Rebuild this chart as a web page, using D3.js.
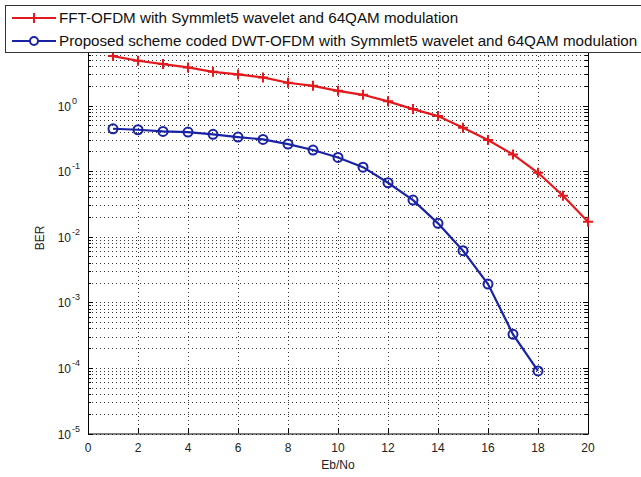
<!DOCTYPE html>
<html><head><meta charset="utf-8">
<script src="https://cdn.jsdelivr.net/npm/d3@7"></script>
<style>
body{margin:0;background:#fff;}
svg{display:block;font-family:"Liberation Sans",Arial,sans-serif;}
</style></head>
<body><svg id="c" width="641" height="477"></svg>
<script>
const ebno = [1,2,3,4,5,6,7,8,9,10,11,12,13,14,15,16,17,18,19,20];
const fftBER = [5.68,4.82,4.29,3.82,3.27,2.99,2.69,2.23,2.00,1.68,1.46,1.16,0.884,0.692,0.459,0.298,0.180,0.0946,0.0422,0.0169];
const dwtEbno = [1,2,3,4,5,6,7,8,9,10,11,12,13,14,15,16,17,18];
const dwtBER = [0.443,0.428,0.404,0.394,0.364,0.331,0.305,0.259,0.210,0.162,0.115,0.0666,0.0362,0.0160,0.00612,0.00190,0.000325,0.0000898];
const xTicks = [0,2,4,6,8,10,12,14,16,18,20];
const yDecades = [-5,-4,-3,-2,-1,0,1];
const legendLabels = ["FFT-OFDM with Symmlet5 wavelet and 64QAM modulation",
  "Proposed scheme coded DWT-OFDM with Symmlet5 wavelet and 64QAM modulation"];
const seriesColors = ["#e3191d","#1a23a3"];

const svg = d3.select("#c");
const L=88, R=588, T=40, B=433.5;
const x = d3.scaleLinear().domain([0,20]).range([L,R]);
const y = d3.scaleLog().domain([1e-5,1e1]).range([B,T]);

const minors = [];
yDecades.slice(0,-1).forEach(e=>{for(let k=2;k<=9;k++) minors.push(k*Math.pow(10,e));});
const majors = yDecades.map(e=>Math.pow(10,e));

const grid = svg.append("g").attr("stroke","#000").attr("stroke-width",1).attr("stroke-dasharray","1,3").attr("opacity",0.8);
grid.selectAll(".hg").data(majors.concat(minors)).enter().append("line")
  .attr("x1",L).attr("x2",R).attr("y1",d=>Math.round(y(d))+0.5).attr("y2",d=>Math.round(y(d))+0.5);
grid.selectAll(".vg").data(xTicks.slice(1,-1)).enter().append("line")
  .attr("x1",d=>Math.round(x(d))+0.5).attr("x2",d=>Math.round(x(d))+0.5).attr("y1",T).attr("y2",B);

const ax = svg.append("g").attr("stroke","#000").attr("stroke-width",1).attr("fill","none");
ax.append("rect").attr("x",L+0.5).attr("y",T+0.5).attr("width",R-L).attr("height",B-T);
xTicks.forEach(t=>{
  const px=Math.round(x(t))+0.5;
  ax.append("line").attr("x1",px).attr("x2",px).attr("y1",B).attr("y2",B-5);
  ax.append("line").attr("x1",px).attr("x2",px).attr("y1",T).attr("y2",T+5);
});
majors.forEach(v=>{
  const py=Math.round(y(v))+0.5;
  ax.append("line").attr("x1",L).attr("x2",L+5).attr("y1",py).attr("y2",py);
  ax.append("line").attr("x1",R).attr("x2",R-5).attr("y1",py).attr("y2",py);
});
minors.forEach(v=>{
  const py=Math.round(y(v))+0.5;
  ax.append("line").attr("x1",L).attr("x2",L+3).attr("y1",py).attr("y2",py);
  ax.append("line").attr("x1",R).attr("x2",R-3).attr("y1",py).attr("y2",py);
});

svg.append("g").selectAll("text").data(xTicks).enter().append("text")
  .attr("x",d=>x(d)).attr("y",B+18).attr("text-anchor","middle").attr("font-size",12).attr("fill","#222").text(d=>d);
svg.append("g").selectAll("text").data(yDecades.slice(0,-1)).enter().append("text")
  .attr("x",L-17).attr("y",d=>y(Math.pow(10,d))+5).attr("text-anchor","end").attr("font-size",12).attr("fill","#222").text("10");
svg.append("g").selectAll("text").data(yDecades.slice(0,-1)).enter().append("text")
  .attr("x",L-16).attr("y",d=>y(Math.pow(10,d))-2).attr("text-anchor","start").attr("font-size",9).attr("fill","#222")
  .text(d=>d);

svg.append("text").attr("x",(L+R)/2).attr("y",469).attr("text-anchor","middle").attr("font-size",12).attr("fill","#222").text("Eb/No");
svg.append("text").attr("transform","translate(44,238) rotate(-90)").attr("text-anchor","middle").attr("font-size",12).attr("fill","#222").text("BER");

const line = d3.line().x(d=>x(d[0])).y(d=>y(d[1]));
const s1 = ebno.map((e,i)=>[e,fftBER[i]]);
const s2 = dwtEbno.map((e,i)=>[e,dwtBER[i]]);
svg.append("path").datum(s1).attr("d",line).attr("fill","none").attr("stroke",seriesColors[0]).attr("stroke-width",2.2);
svg.append("g").selectAll("path").data(s1).enter().append("path")
  .attr("d",d=>`M${x(d[0])-5},${y(d[1])}h10M${x(d[0])},${y(d[1])-5}v10`).attr("stroke",seriesColors[0]).attr("stroke-width",2);
svg.append("path").datum(s2).attr("d",line).attr("fill","none").attr("stroke",seriesColors[1]).attr("stroke-width",2.2);
svg.append("g").selectAll("circle").data(s2).enter().append("circle")
  .attr("cx",d=>x(d[0])).attr("cy",d=>y(d[1])).attr("r",4.5).attr("fill","none").attr("stroke",seriesColors[1]).attr("stroke-width",2);

const lg = svg.append("g");
lg.append("rect").attr("x",5.5).attr("y",5.5).attr("width",650).attr("height",47).attr("fill","#fff").attr("stroke","#333");
legendLabels.forEach((lab,i)=>{
  const cy = 18 + i*23;
  lg.append("line").attr("x1",12).attr("x2",56).attr("y1",cy).attr("y2",cy).attr("stroke",seriesColors[i]).attr("stroke-width",2.2);
  if(i===0) lg.append("path").attr("d",`M29,${cy}h10M34,${cy-5}v10`).attr("stroke",seriesColors[i]).attr("stroke-width",2);
  else lg.append("circle").attr("cx",34).attr("cy",cy).attr("r",4).attr("fill","#fff").attr("stroke",seriesColors[i]).attr("stroke-width",2);
  lg.append("text").attr("x",59).attr("y",cy+5).attr("font-size",15.2).attr("fill","#111").text(lab);
});
</script></body></html>
